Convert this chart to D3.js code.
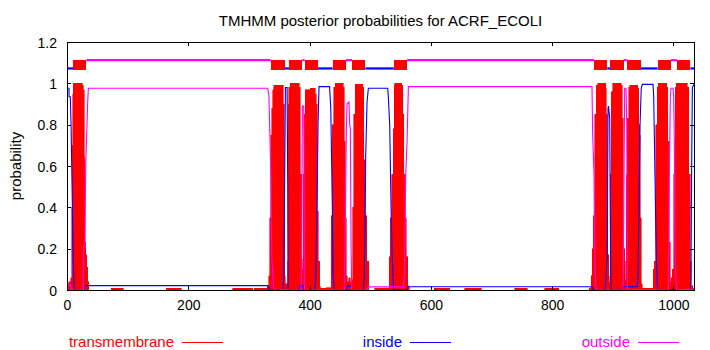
<!DOCTYPE html>
<html>
<head>
<meta charset="utf-8">
<script src="https://cdn.jsdelivr.net/npm/d3@7"></script>
<style>
  body { margin: 0; background: #fff; }
  svg { display: block; }
  text { font-family: "Liberation Sans", Arial, Helvetica, sans-serif; }
</style>
</head>
<body>
<svg id="chart" width="710" height="350"></svg>
<script>
// ---- data -------------------------------------------------------------
const proteinName = "ACRF_ECOLI";
const seqLength = 1034;
const xTicks = [0, 200, 400, 600, 800, 1000];
const yTicks = [0, 0.2, 0.4, 0.6, 0.8, 1, 1.2];
const yTickLabels = ["0", "0.2", "0.4", "0.6", "0.8", "1", "1.2"];
const seriesNames = ["transmembrane", "inside", "outside"];

// posterior probability of a membrane helix, [residue, p]
const tmProb = [
  [0,0.03],[5,0.04],[7.5,0.06],[7.8,0.40],[9,0.70],[10.3,0.95],[11,1.0],[24,1.0],[25.5,0.99],[27.5,0.97],
  [28.6,0.64],[29.7,0.23],[31.9,0.17],[33,0.11],[35.2,0.04],[36.3,0.0],
  [73,0.0],[73,0.008],[93,0.008],[93,0.0],
  [164,0.0],[164,0.008],[188,0.008],[188,0.0],
  [273,0.0],[273,0.008],[306,0.008],[306,0.0],
  [309,0.0],[309,0.008],[329,0.008],
  [331,0.02],[334,0.07],[335,0.35],[336.5,0.75],[338.5,0.88],[340.5,0.97],[342,0.99],[356,0.99],[357.4,0.9],
  [358.5,0.45],[359.6,0.07],[361,0.03],[363.5,0.03],
  [364.5,0.14],[365.2,0.9],[367,0.98],[369.5,1.0],[382.7,1.0],[384,0.98],[386,0.56],[387.5,0.15],[388.5,0.10],
  [390.4,0.56],[392,0.85],[393.7,0.97],[409,0.976],[410.2,0.95],[412.4,0.9],[413.4,0.38],[415.6,0.14],[417.3,0.02],[418,0.008],
  [435,0.01],[436.5,0.36],[438.7,0.8],[440.9,0.98],[443.1,1.0],[455.2,1.0],[456.3,0.98],[458.5,0.72],[459.6,0.35],
  [461.8,0.07],[463,0.04],[466,0.06],[469,0.04],
  [470.6,0.05],[471.7,0.4],[473.9,0.85],[476.1,0.995],[487.1,0.995],[488.2,0.98],[490.4,0.63],[492.6,0.36],[495.9,0.14],[499.2,0.0],
  [507.5,0.0],[507.5,0.008],[530,0.008],[532.2,0.16],[534.4,0.35],[536.6,0.56],[538.8,0.78],[539.9,0.99],[541,1.0],
  [550.9,1.0],[553.1,0.99],[554.2,0.85],[556.4,0.56],[558.6,0.35],[560.8,0.16],[563,0.02],[565.2,0.0],
  [606,0.0],[606,0.008],[631,0.008],[631,0.0],
  [656,0.0],[656,0.008],[683,0.008],[683,0.0],
  [738,0.0],[738,0.008],[759,0.008],[759,0.0],
  [788,0.0],[788,0.008],[811,0.008],[811,0.0],
  [860,0.0],[862,0.008],[863.6,0.01],[865.8,0.07],[867,0.2],[869.1,0.36],[871.3,0.85],[874.6,0.99],[875.7,1.0],
  [887.8,1.0],[888.9,0.976],[890,0.85],[892.2,0.17],[894.4,0.04],
  [895.5,0.07],[896.6,0.56],[898.8,0.96],[901,1.0],[913.1,1.0],[915.3,0.99],[916.4,0.83],[918.6,0.2],[920.8,0.05],
  [921.9,0.14],[923,0.56],[925.2,0.83],[927.4,0.98],[928.5,0.99],[940.6,0.99],[941.7,0.976],[943.9,0.8],[944.4,0.75],
  [946.1,0.35],[948.3,0.03],[949,0.008],
  [966,0.008],[967.5,0.1],[969.7,0.14],[971.9,0.8],[974.1,0.98],[975.2,1.0],[988.4,1.0],[989.5,0.98],[991.7,0.72],
  [993.9,0.23],[996.1,0.04],[997.2,0.06],[999.4,0.1],
  [1001.6,0.56],[1003.8,0.98],[1006,1.0],[1021.4,1.0],[1023.6,0.98],[1026.9,0.56],[1028,0.14],[1030.2,0.02],[1034,0.008]
];

// posterior probability of the cytoplasmic side, [residue, p]
const insideProb = [
  [0,0.976],[3.3,0.976],[3.4,0.935],[5.5,0.935],[6.7,0.8],[7.8,0.6],[8.9,0.4],[10,0.2],[11,0.07],[12.1,0.0],
  [28.5,0.0],[29.7,0.021],
  [332,0.021],[334,0.0],[356.3,0.0],[357.4,0.06],[358.5,0.4],[360.2,0.98],[363,0.98],[364,0.5],[364.5,0.0],
  [382.7,0.0],[383.8,0.02],[389.3,0.02],[390.4,0.0],
  [409,0.0],[410.2,0.07],[412.2,0.4],[414,0.8],[415.6,0.984],[433,0.984],[435,0.88],[437.6,0.4],[438.7,0.07],[441,0.0],
  [461,0.0],[462,0.02],[468,0.02],[469,0.0],
  [489,0.0],[490.4,0.07],[492.6,0.65],[494.8,0.91],[497,0.976],[528.9,0.976],[530,0.93],[532.2,0.8],[534.4,0.4],
  [536.6,0.14],[538.8,0.0],
  [560,0.0],[562,0.016],[866,0.016],[868,0.0],
  [887.8,0.0],[889,0.07],[891,0.18],[892.2,0.88],[893,0.89],[895,0.83],[896.6,0.07],[897.7,0.0],
  [915,0.0],[917,0.016],[940.6,0.016],[941.7,0.07],[943.9,0.55],[945,0.8],[947,0.976],[948.8,0.995],
  [966.4,0.995],[967.5,0.94],[969.7,0.55],[971.9,0.14],[974.1,0.0],
  [1028,0.0],[1029,0.07],[1030,0.55],[1031.3,0.98],[1034,0.995]
];

// posterior probability of the periplasmic side, [residue, p]
const outsideProb = [
  [0,0.027],[5,0.027],[6.5,0.01],[9,0.0],[27,0.0],[27.5,0.21],[29.7,0.21],[30.8,0.6],[33,0.8],[34,0.9],[35.2,0.976],
  [331,0.976],[333,0.94],[334.3,0.78],[336.5,0.54],[337.6,0.15],[339.8,0.07],[341,0.01],[342,0.0],
  [385.5,0.0],[387,0.07],[388.2,0.89],[390.4,0.89],[391.5,0.0],
  [457.4,0.0],[458.5,0.21],[460.7,0.78],[461.8,0.9],[465,0.91],[466.2,0.8],[467.3,0.78],[468.4,0.22],[469.5,0.0],
  [495,0.0],[497,0.015],[555,0.015],[556.4,0.07],[558.6,0.56],[560.8,0.72],[563,0.984],
  [865.8,0.984],[866.9,0.75],[869.1,0.56],[870.2,0.2],[872.4,0.0],
  [916.4,0.0],[917.5,0.07],[918.6,0.56],[919.7,0.976],[921.9,0.976],[923,0.81],[924.1,0.0],
  [991.7,0.0],[992.8,0.44],[995,0.94],[996.1,0.976],[999.4,0.976],[1000.5,0.94],[1001.6,0.72],[1002.7,0.2],
  [1004.9,0.0],[1034,0.005]
];

// predicted topology: [kind, first residue, last residue]
const topology = [
  ["inside",1,9],["TMhelix",10,32],["outside",33,335],["TMhelix",336,359],["inside",360,365],
  ["TMhelix",366,388],["outside",389,391],["TMhelix",392,414],["inside",415,437],["TMhelix",438,460],
  ["outside",461,469],["TMhelix",470,492],["inside",493,538],["TMhelix",539,561],["outside",562,868],
  ["TMhelix",869,891],["inside",892,895],["TMhelix",896,918],["outside",919,923],["TMhelix",924,946],
  ["inside",947,973],["TMhelix",974,996],["outside",997,1005],["TMhelix",1006,1028],["inside",1029,1034]
];
// levels at which the topology track is drawn
const topoLevels = { inside: 1.072, outside: 1.112, helixLow: 1.064, helixHigh: 1.113 };

// ---- drawing ----------------------------------------------------------
const colors = { transmembrane: "#ff0000", inside: "#0000ff", outside: "#ff00ff" };
const W = 710, H = 350;
const plot = { left: 67, right: 694, top: 42, bottom: 290 };

const svg = d3.select("#chart");
const x = d3.scaleLinear().domain([0, seqLength]).range([plot.left, plot.right]);
const y = d3.scaleLinear().domain([0, 1.2]).range([plot.bottom, plot.top]);

svg.append("rect").attr("width", W).attr("height", H).attr("fill", "#fff");

svg.append("defs").append("clipPath").attr("id", "plotclip")
  .append("rect").attr("x", plot.left).attr("y", plot.top)
  .attr("width", plot.right - plot.left).attr("height", plot.bottom - plot.top);

const g = svg.append("g").attr("clip-path", "url(#plotclip)");

// transmembrane probability, filled to zero
g.append("path").datum(tmProb)
  .attr("d", d3.area().x(d => x(d[0])).y0(y(0)).y1(d => y(d[1])).curve(d3.curveStep))
  .attr("fill", colors.transmembrane)
  .attr("stroke", colors.transmembrane).attr("stroke-width", 0.6)
  .attr("shape-rendering", "crispEdges");

const line = d3.line().x(d => x(d[0])).y(d => y(d[1]));
g.append("path").datum(insideProb).attr("d", line)
  .attr("fill", "none").attr("stroke", colors.inside).attr("stroke-width", 1.1);
g.append("path").datum(outsideProb).attr("d", line)
  .attr("fill", "none").attr("stroke", colors.outside).attr("stroke-width", 1.1);

// topology track above the curves
const loops = topology.filter(t => t[0] !== "TMhelix");
const helices = topology.filter(t => t[0] === "TMhelix");
g.selectAll("line.loop").data(loops).join("line").attr("class", "loop")
  .attr("x1", d => x(d[1] - 1)).attr("x2", d => x(d[2] + 1))
  .attr("y1", d => y(topoLevels[d[0]])).attr("y2", d => y(topoLevels[d[0]]))
  .attr("stroke", d => colors[d[0]]).attr("stroke-width", 2.2);
g.selectAll("rect.helix").data(helices).join("rect").attr("class", "helix")
  .attr("x", d => x(d[1])).attr("width", d => x(d[2]) - x(d[1]))
  .attr("y", y(topoLevels.helixHigh)).attr("height", y(topoLevels.helixLow) - y(topoLevels.helixHigh))
  .attr("fill", colors.transmembrane).attr("shape-rendering", "crispEdges");

// axes: ticks point inwards on all four sides
const fmtY = d => yTickLabels[yTicks.indexOf(d)];
const axisStyle = sel => {
  sel.select(".domain").remove();
  sel.selectAll(".tick line").attr("stroke", "#000").attr("shape-rendering", "crispEdges");
  sel.selectAll("text").attr("fill", "#000").attr("font-size", 14)
    .attr("font-family", "'Liberation Sans', Arial, Helvetica, sans-serif");
};
svg.append("g").attr("transform", `translate(0,${plot.bottom})`)
  .call(d3.axisBottom(x).tickValues(xTicks).tickSize(-4).tickPadding(10).tickFormat(d3.format("d")))
  .call(axisStyle);
svg.append("g").attr("transform", `translate(0,${plot.top})`)
  .call(d3.axisTop(x).tickValues(xTicks).tickSize(-4).tickFormat(""))
  .call(axisStyle);
svg.append("g").attr("transform", `translate(${plot.left},0)`)
  .call(d3.axisLeft(y).tickValues(yTicks).tickSize(-4).tickPadding(10).tickFormat(fmtY))
  .call(axisStyle)
  .selectAll("text").attr("dy", "0.36em");
svg.append("g").attr("transform", `translate(${plot.right},0)`)
  .call(d3.axisRight(y).tickValues(yTicks).tickSize(-4).tickFormat(""))
  .call(axisStyle);

// frame
svg.append("rect")
  .attr("x", plot.left + 0.5).attr("y", plot.top + 0.5)
  .attr("width", plot.right - plot.left).attr("height", plot.bottom - plot.top)
  .attr("fill", "none").attr("stroke", "#000").attr("stroke-width", 1)
  .attr("shape-rendering", "crispEdges");

// title and axis label
svg.append("text").attr("x", 380.5).attr("y", 26).attr("text-anchor", "middle")
  .attr("font-size", 15).attr("fill", "#000")
  .text(`TMHMM posterior probabilities for ${proteinName}`);
svg.append("text").attr("transform", "translate(21,166) rotate(-90)")
  .attr("text-anchor", "middle").attr("font-size", 15).attr("fill", "#000")
  .text("probability");

// legend along the bottom
const legendStart = 182, legendStep = 228, legendLine = 41, legendY = 342;
seriesNames.forEach((name, i) => {
  const lx = legendStart + i * legendStep;
  svg.append("text").attr("x", lx - 8).attr("y", legendY + 5).attr("text-anchor", "end")
    .attr("font-size", 15).attr("fill", colors[name]).text(name);
  svg.append("line").attr("x1", lx).attr("x2", lx + legendLine)
    .attr("y1", legendY + 0.5).attr("y2", legendY + 0.5)
    .attr("stroke", colors[name]).attr("stroke-width", 1).attr("shape-rendering", "crispEdges");
});
</script>
</body>
</html>
